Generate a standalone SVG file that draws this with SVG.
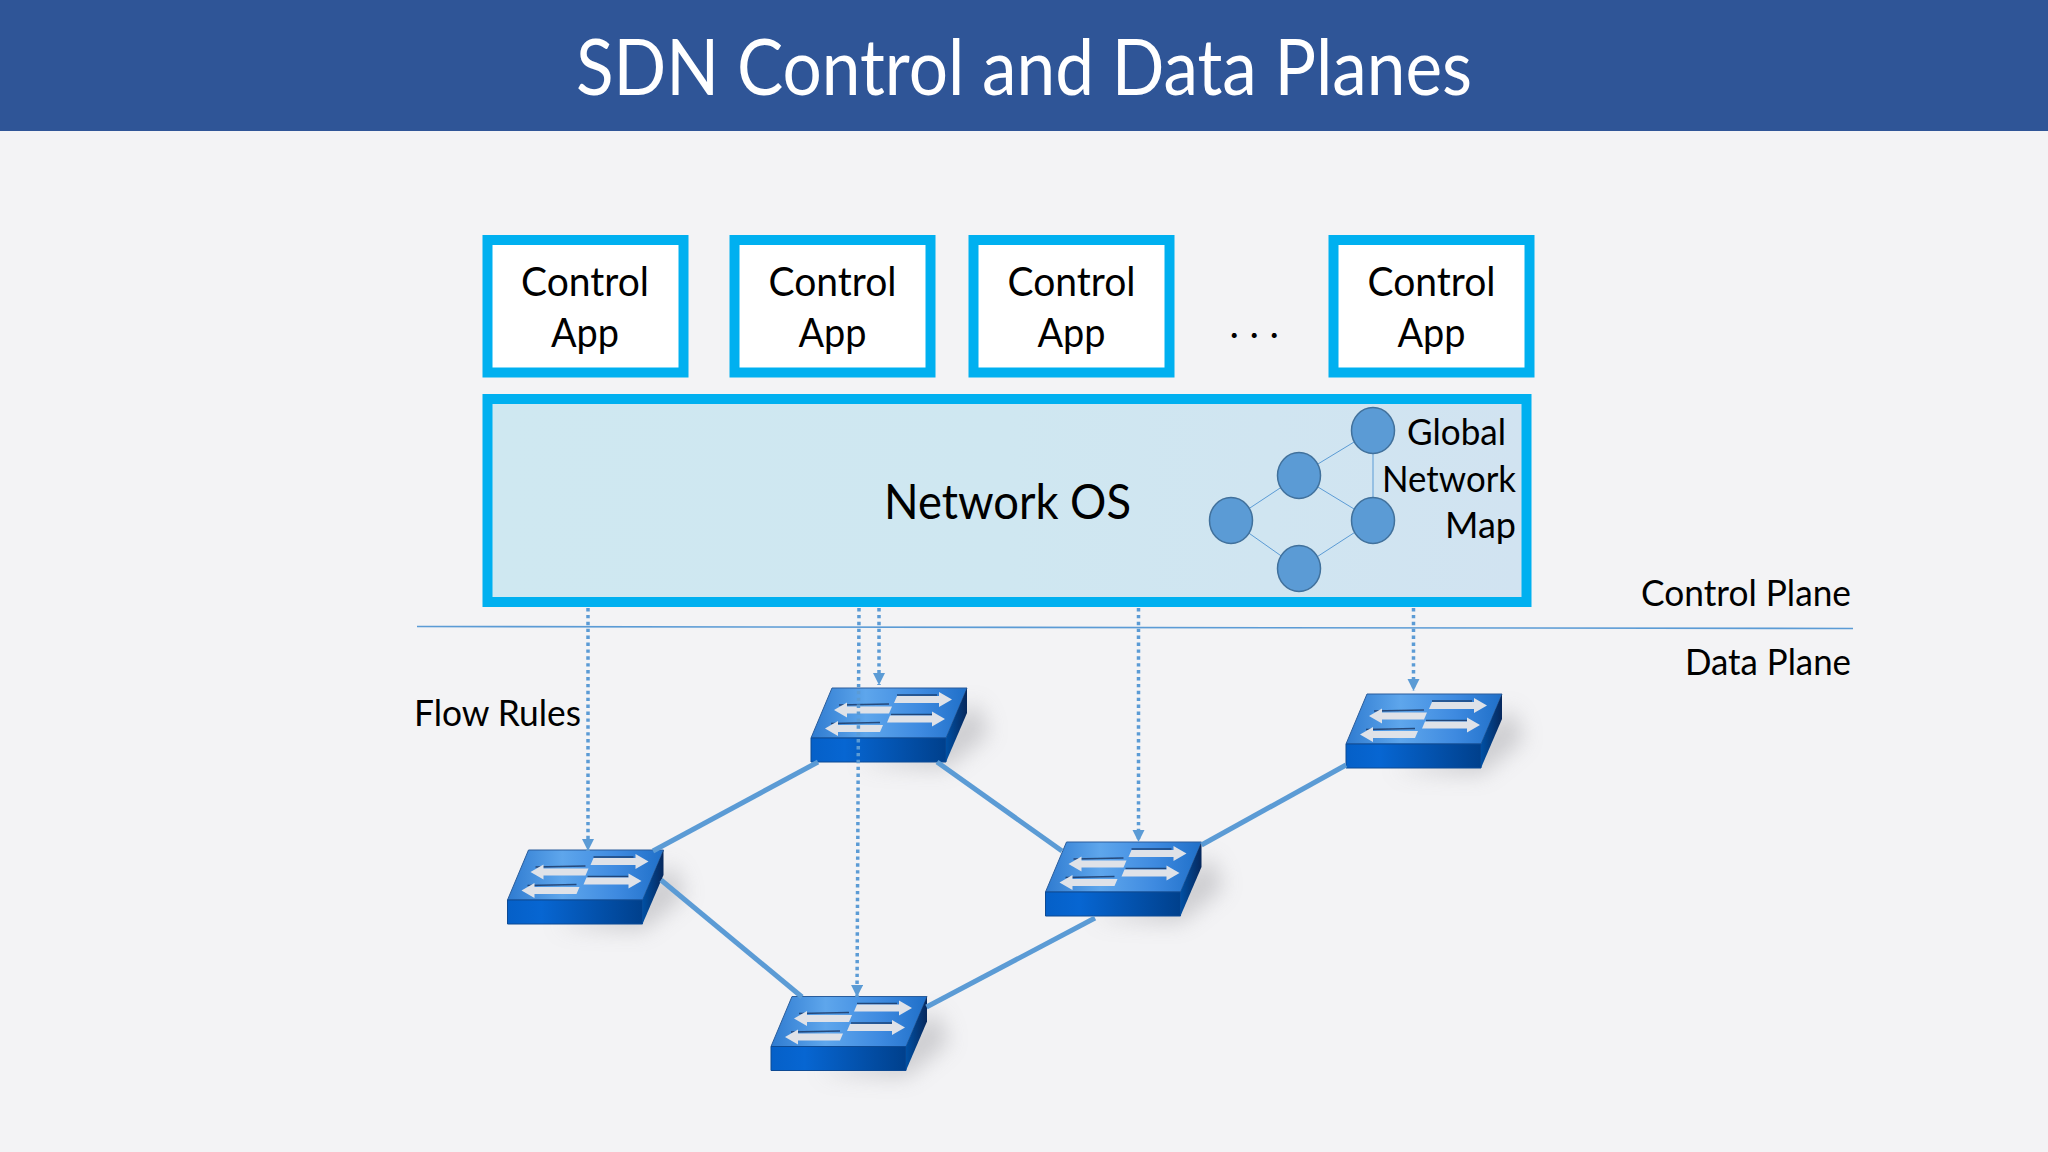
<svg xmlns="http://www.w3.org/2000/svg" width="2048" height="1152" viewBox="0 0 2048 1152">
<style>
text{font-family:"Lato","Carlito","Liberation Sans",sans-serif;fill:#000}
.app{font-size:41px;text-anchor:middle}
.lbl{font-size:36px}
.box{fill:#fff;stroke:#00b0f0;stroke-width:10}
.mapn{fill:#5b9bd5;stroke:#41719c;stroke-width:1.5}
.mapl{stroke:#5b9bd5;stroke-width:1;fill:none}
.link{stroke:#5b9bd5;stroke-width:5;fill:none}
.rule{stroke:#5b9bd5;stroke-width:1.6;fill:none}
.dot{stroke:#5b9bd5;stroke-width:3.5;stroke-dasharray:3.4 3.5;fill:none;marker-end:url(#head)}
</style>
<defs>
<linearGradient id="osfill" x1="0" y1="0" x2="1" y2="0"><stop offset="0" stop-color="#cfe8f1"/><stop offset="0.5" stop-color="#cfe7f1"/><stop offset="1" stop-color="#d1e3f1"/></linearGradient>
<linearGradient id="swtop" x1="0" y1="0" x2="1" y2="0"><stop offset="0" stop-color="#2f7bd0"/><stop offset="0.35" stop-color="#5ea6ec"/><stop offset="0.7" stop-color="#3e8ae0"/><stop offset="1" stop-color="#1f6fc8"/></linearGradient>
<linearGradient id="swfront" x1="0" y1="0" x2="1" y2="0"><stop offset="0" stop-color="#0560c8"/><stop offset="0.25" stop-color="#0766d2"/><stop offset="1" stop-color="#00408c"/></linearGradient>
<linearGradient id="swside" x1="0" y1="0" x2="1" y2="0"><stop offset="0" stop-color="#0050a4"/><stop offset="1" stop-color="#07285c"/></linearGradient>
<filter id="blur" x="-40%" y="-40%" width="180%" height="180%"><feGaussianBlur stdDeviation="11"/></filter>
<filter id="soft" x="-10%" y="-30%" width="120%" height="160%"><feGaussianBlur stdDeviation="0.7"/></filter>
<marker id="head" markerUnits="userSpaceOnUse" markerWidth="13" markerHeight="13" refX="12" refY="6" orient="auto"><path d="M0,0L12,6L0,12Z" fill="#5b9bd5"/></marker>
<path id="arr" d="M0,-3.5L42,-3.5L42,-7.5L55,0L42,7.5L42,3.5L-3,3.5Z" fill="#dfe2e8"/>
<g id="sw">
<path d="M45,26L135,30L178,-5L165,-35L150,-25L120,10Z" fill="#8a8a90" opacity="0.38" filter="url(#blur)"/>
<path d="M21,-50L156,-50L135,0L0,0Z" fill="url(#swtop)" stroke="#2a5d9c" stroke-width="1"/>
<path d="M0,0L135,0L135,24L0,24Z" fill="url(#swfront)" stroke="#0d4a94" stroke-width="1"/>
<path d="M135,0L156,-50L156,-25L135,24Z" fill="url(#swside)"/>
<g filter="url(#soft)">
<path d="M86,-43L126,-43M80,-23.5L121,-23.5M28,-33L78,-34M20,-14.5L69,-15.5" stroke="#1a3560" stroke-width="1.6" fill="none" opacity="0.8"/>
<use href="#arr" transform="translate(86,-38.5)"/>
<use href="#arr" transform="translate(79,-19)"/>
<use href="#arr" transform="translate(78,-28) rotate(180)"/>
<use href="#arr" transform="translate(69,-9.5) rotate(180)"/>
</g>
</g>
</defs>
<rect id="background" width="2048" height="1152" fill="#f3f3f5"/>
<g id="header"><rect width="2048" height="131" fill="#2f5597"/>
<text x="1024" y="94.5" font-size="78" text-anchor="middle" textLength="896" lengthAdjust="spacingAndGlyphs" style="fill:#fff">SDN Control and Data Planes</text></g>

<g id="app1"><rect class="box" x="487.5" y="240" width="196" height="132.5"/><text class="app" x="585" y="296" textLength="128" lengthAdjust="spacingAndGlyphs">Control</text><text class="app" x="585" y="347" textLength="68" lengthAdjust="spacingAndGlyphs">App</text></g>
<g id="app2"><rect class="box" x="734.5" y="240" width="196" height="132.5"/><text class="app" x="832.5" y="296" textLength="128" lengthAdjust="spacingAndGlyphs">Control</text><text class="app" x="832.5" y="347" textLength="68" lengthAdjust="spacingAndGlyphs">App</text></g>
<g id="app3"><rect class="box" x="973.5" y="240" width="196" height="132.5"/><text class="app" x="1071.5" y="296" textLength="128" lengthAdjust="spacingAndGlyphs">Control</text><text class="app" x="1071.5" y="347" textLength="68" lengthAdjust="spacingAndGlyphs">App</text></g>
<g id="app4"><rect class="box" x="1333.5" y="240" width="196" height="132.5"/><text class="app" x="1431.5" y="296" textLength="128" lengthAdjust="spacingAndGlyphs">Control</text><text class="app" x="1431.5" y="347" textLength="68" lengthAdjust="spacingAndGlyphs">App</text></g>
<g id="ellipsis"><text x="1229.5 1239.5 1249.5 1259.5 1269.5" y="337.5" font-size="40">. . .</text></g>

<g id="network-os"><rect x="487.5" y="399" width="1039" height="203" fill="url(#osfill)" stroke="#00b0f0" stroke-width="10"/>
<text x="1007.5" y="519" font-size="49" text-anchor="middle" textLength="247" lengthAdjust="spacingAndGlyphs">Network OS</text></g>

<g id="global-network-map">
<path class="mapl" d="M1373,430.5L1299,475.5L1231,520.5L1299,568.5L1373,520.5L1299,475.5M1373,430.5L1373,520.5"/>
<ellipse class="mapn" cx="1373" cy="430.5" rx="21.5" ry="23"/>
<ellipse class="mapn" cx="1299" cy="475.5" rx="21.5" ry="23"/>
<ellipse class="mapn" cx="1231" cy="520.5" rx="21.5" ry="23"/>
<ellipse class="mapn" cx="1373" cy="520.5" rx="21.5" ry="23"/>
<ellipse class="mapn" cx="1299" cy="568.5" rx="21.5" ry="23"/>
<text class="lbl" x="1407" y="445" textLength="99" lengthAdjust="spacingAndGlyphs">Global</text>
<text class="lbl" x="1382" y="491.5" textLength="134" lengthAdjust="spacingAndGlyphs">Network</text>
<text class="lbl" x="1445" y="537.5" textLength="71" lengthAdjust="spacingAndGlyphs">Map</text>
</g>

<g id="plane-labels">
<path class="rule" d="M417,626.5L1853,628.5"/>
<text class="lbl" x="1641" y="606" textLength="210" lengthAdjust="spacingAndGlyphs">Control Plane</text>
<text class="lbl" x="1685" y="675" textLength="166" lengthAdjust="spacingAndGlyphs">Data Plane</text>
<text class="lbl" x="414" y="726" textLength="167" lengthAdjust="spacingAndGlyphs">Flow Rules</text>
</g>

<g id="switch-top"><use href="#sw" x="811" y="738"/></g>
<g id="switch-left"><use href="#sw" x="507.5" y="900"/></g>
<g id="switch-bottom"><use href="#sw" x="771" y="1046.5"/></g>
<g id="switch-middle"><use href="#sw" x="1045.5" y="892"/></g>
<g id="switch-right"><use href="#sw" x="1346" y="744"/></g>

<g id="connectors">
<path class="link" d="M818,762L653,851"/>
<path class="link" d="M937,762L1062,851"/>
<path class="link" d="M661,880L802,997"/>
<path class="link" d="M926.5,1007L1095,918"/>
<path class="link" d="M1201.5,845L1346,765"/>
<path class="dot" d="M588,608L588,851"/>
<path class="dot" d="M859,608L857,997"/>
<path class="dot" d="M879,608L879,685"/>
<path class="dot" d="M1138.5,608L1138.5,842"/>
<path class="dot" d="M1413.5,608L1413.5,691"/>
</g>
</svg>
